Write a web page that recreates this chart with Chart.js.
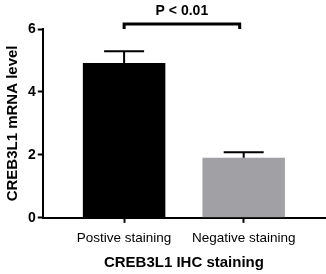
<!DOCTYPE html>
<html>
<head>
<meta charset="utf-8">
<script src="https://cdn.jsdelivr.net/npm/chart.js@4.4.1/dist/chart.umd.min.js"></script>
<style>
  html, body { margin: 0; padding: 0; background: #fff; }
  #wrap { width: 326px; height: 274px; }
</style>
</head>
<body>
<div id="wrap"><canvas id="barChart"></canvas></div>
<script>
const categories = ['Postive staining', 'Negative staining'];
const means = [4.92, 1.91];
const semUpper = [0.37, 0.17];
const barColors = ['#000000', '#a1a1a5'];
const yTicks = [0, 2, 4, 6];
const pText = 'P < 0.01';

const FONT = '"Liberation Sans", Arial, sans-serif';

// error bars + significance bracket
const extrasPlugin = {
    id: 'extras',
    afterDatasetsDraw(chart) {
        const ctx = chart.ctx;
        const x = chart.scales.x;
        const y = chart.scales.y;
        ctx.save();
        ctx.strokeStyle = '#000';
        ctx.lineWidth = 2;
        means.forEach((m, i) => {
            const px = x.getPixelForValue(i);
            const top = y.getPixelForValue(m + semUpper[i]);
            ctx.beginPath();
            ctx.moveTo(px, y.getPixelForValue(m));
            ctx.lineTo(px, top);
            ctx.moveTo(px - 20, top);
            ctx.lineTo(px + 20, top);
            ctx.stroke();
        });
        // bracket
        const x0 = x.getPixelForValue(0);
        const x1 = x.getPixelForValue(1) - 4;
        const by = chart.chartArea.top - 5;
        ctx.lineWidth = 3;
        ctx.beginPath();
        ctx.moveTo(x0, by + 5);
        ctx.lineTo(x0, by);
        ctx.lineTo(x1, by);
        ctx.lineTo(x1, by + 5);
        ctx.stroke();
        ctx.fillStyle = '#000';
        ctx.font = 'bold 14px ' + FONT;
        ctx.textAlign = 'center';
        ctx.textBaseline = 'middle';
        ctx.fillText(pText, (x0 + x1) / 2, 11);
        ctx.restore();
    }
};

new Chart('barChart', {
    type: 'bar',
    data: {
        datasets: [{
            data: means.map((m, i) => ({ x: i, y: m })),
            backgroundColor: barColors,
            borderWidth: 0,
            categoryPercentage: 1,
            barPercentage: 0.69
        }]
    },
    options: {
        responsive: true,
        maintainAspectRatio: false,
        animation: false,
        layout: { padding: { top: 29, right: 1, left: 4, bottom: 2 } },
        plugins: { legend: { display: false }, tooltip: { enabled: false } },
        scales: {
            x: {
                type: 'linear',
                offset: false,
                min: -0.68,
                max: 1.68,
                afterBuildTicks: (scale) => { scale.ticks = categories.map((c, i) => ({ value: i })); },
                grid: { display: true, offset: false, drawOnChartArea: false, drawTicks: true, tickLength: 5, tickColor: '#000', tickWidth: 2 },
                border: { display: true, color: '#000', width: 2 },
                ticks: {
                    color: '#000',
                    padding: 7,
                    maxRotation: 0,
                    autoSkip: false,
                    font: { family: FONT, size: 13.5 },
                    callback: (v) => categories[v]
                },
                title: {
                    display: true,
                    text: 'CREB3L1 IHC staining',
                    color: '#000',
                    padding: { top: 1, bottom: 0 },
                    font: { family: FONT, size: 15, weight: 'bold' }
                }
            },
            y: {
                min: 0,
                max: 6,
                afterBuildTicks: (scale) => { scale.ticks = yTicks.map(v => ({ value: v })); },
                grid: { display: true, drawOnChartArea: false, drawTicks: true, tickLength: 5, tickColor: '#000', tickWidth: 2 },
                border: { display: true, color: '#000', width: 2 },
                ticks: {
                    color: '#000',
                    padding: 2,
                    font: { family: FONT, size: 14, weight: 'bold' }
                },
                title: {
                    display: true,
                    text: 'CREB3L1 mRNA level',
                    color: '#000',
                    padding: { top: 0, bottom: 4 },
                    font: { family: FONT, size: 15, weight: 'bold' }
                }
            }
        }
    },
    plugins: [extrasPlugin]
});
</script>
</body>
</html>
